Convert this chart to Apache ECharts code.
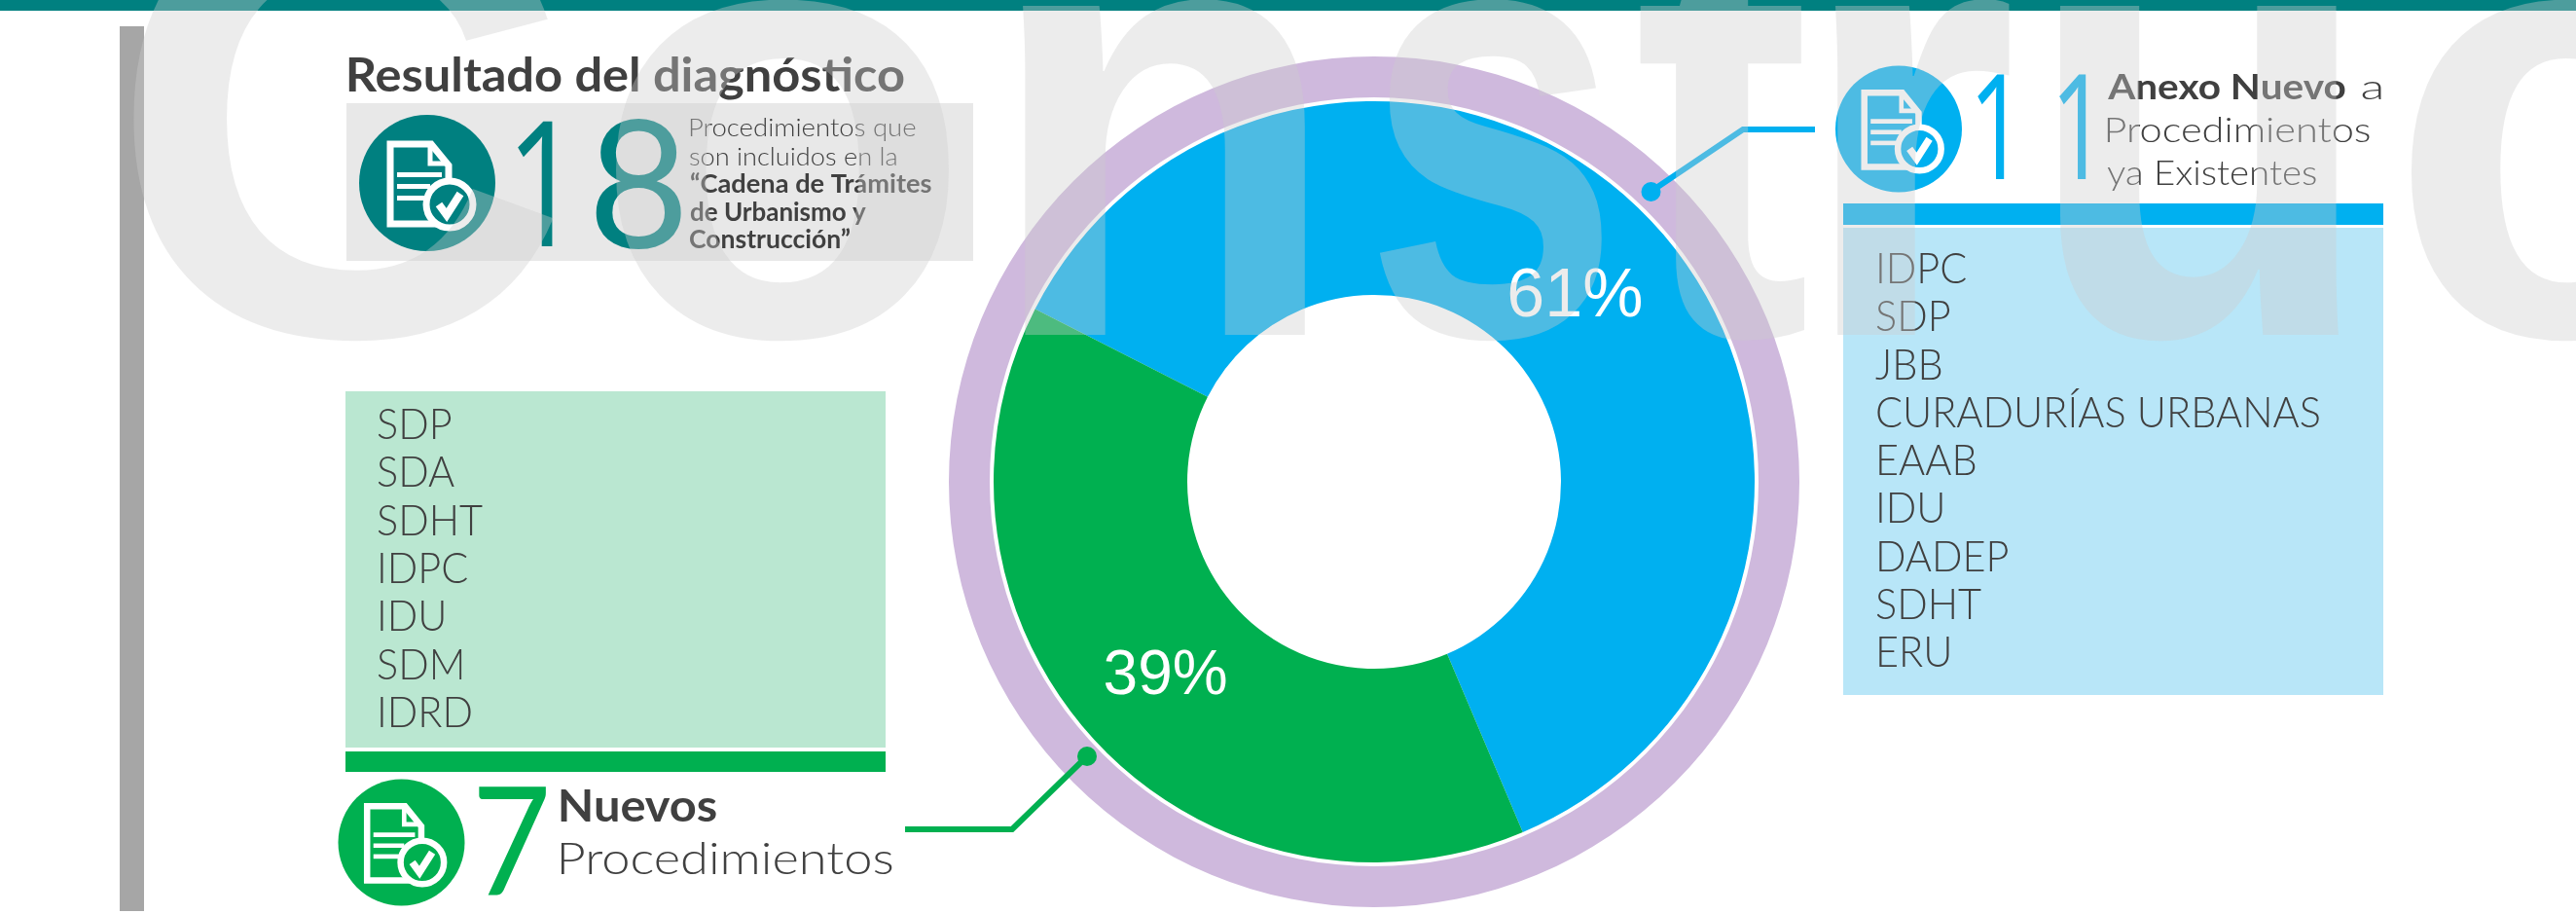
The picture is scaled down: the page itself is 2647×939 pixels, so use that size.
<!DOCTYPE html>
<html><head><meta charset="utf-8">
<style>html,body{margin:0;padding:0;background:#fff}#c{width:2647px;height:939px}</style>
<script src="https://cdn.jsdelivr.net/npm/echarts@6/dist/echarts.min.js"></script>
</head><body><div id="c"></div>
<script>
// ---- data ----
const sliceNames = ['Anexo Nuevo a Procedimientos ya Existentes', 'Nuevos Procedimientos'];
const sliceValues = [11, 7];
const sliceColors = ['#00b0f0', '#00b050'];
const nuevosList = ['SDP', 'SDA', 'SDHT', 'IDPC', 'IDU', 'SDM', 'IDRD'];
const anexoList = ['IDPC', 'SDP', 'JBB', 'CURADURÍAS URBANAS', 'EAAB', 'IDU', 'DADEP', 'SDHT', 'ERU'];
const titleText = 'Resultado del diagnóstico';
const totalValue = '18', anexoValue = '11', nuevosValue = '7';

const ctx = document.createElement('canvas').getContext('2d');
const LT = 'Lato, "Open Sans", sans-serif';
const OS = '"Open Sans", sans-serif';
const DARK = '#404040';
// text placed by ink-left / baseline, optionally stretched to an ink-right; with scale given, left is the origin
function T(text, left, right, base, font, fill, z, scale) {
  ctx.font = font; ctx.textBaseline = 'middle'; ctx.textAlign = 'left';
  const m = ctx.measureText(text);
  const d = ctx.measureText('H').actualBoundingBoxDescent;
  const inkL = m.actualBoundingBoxLeft, inkR = m.actualBoundingBoxRight;
  const s = scale || (right != null ? (right - left) / (inkR + inkL) : 1);
  return { type: 'text', x: scale ? left : left + inkL * s, y: base - d, scaleX: s, z: z || 5, silent: true,
    style: { text, x: 0, y: 0, font, fill, align: 'left', verticalAlign: 'middle' } };
}
function rect(x, y, w, h, fill, z) {
  return { type: 'rect', z: z || 1, silent: true, shape: { x, y, width: w, height: h }, style: { fill } };
}
function icon(cx, cy, r, color) {
  const k = r / 70;
  return { type: 'group', x: cx, y: cy, scaleX: k, scaleY: k, z: 3, silent: true, children: [
    { type: 'circle', z: 3, shape: { cx: 0, cy: 0, r: 70 }, style: { fill: color } },
    { type: 'polygon', z: 4, shape: { points: [[-38, -40], [4, -40], [22, -18], [22, 42], [-38, 42]] }, style: { fill: color, stroke: '#fff', lineWidth: 7 } },
    { type: 'polyline', z: 4, shape: { points: [[3, -40], [3, -20], [22, -20]] }, style: { fill: null, stroke: '#fff', lineWidth: 5 } },
    { type: 'rect', z: 4, shape: { x: -31, y: -11, width: 46, height: 5 }, style: { fill: '#fff' } },
    { type: 'rect', z: 4, shape: { x: -31, y: 1, width: 34, height: 5 }, style: { fill: '#fff' } },
    { type: 'rect', z: 4, shape: { x: -31, y: 13, width: 30, height: 5 }, style: { fill: '#fff' } },
    { type: 'circle', z: 4, shape: { cx: 23, cy: 22, r: 24 }, style: { fill: color, stroke: '#fff', lineWidth: 7 } },
    { type: 'polyline', z: 4, shape: { points: [[12, 22], [20, 33], [34, 11]] }, style: { fill: null, stroke: '#fff', lineWidth: 8 } }
  ] };
}
function leader(points, dot, color) {
  return [
    { type: 'polyline', z: 4, silent: true, shape: { points }, style: { fill: null, stroke: color, lineWidth: 6, lineJoin: 'miter' } },
    { type: 'circle', z: 4, silent: true, shape: { cx: dot[0], cy: dot[1], r: 10 }, style: { fill: color } }
  ];
}

const listFont = '300 43px ' + LT;
ctx.font = listFont;
const cm = ctx.measureText('CURADURÍAS URBANAS');
const listScale = 454 / (cm.actualBoundingBoxRight + cm.actualBoundingBoxLeft);

const els = [
  rect(0, 0, 2647, 11, '#008080'),
  rect(123, 27, 25, 909, '#a6a6a6'),
  rect(356, 106, 644, 162, '#e8e8e8'),
  rect(355, 402, 555, 366, '#bae7d1'),
  rect(355, 772, 555, 21, '#00b050'),
  rect(1894, 234, 555, 480, '#b8e6f8'),
  rect(1894, 209, 555, 22, '#00b0f0'),
  icon(439, 188, 70, '#008080'),
  icon(1951, 132.5, 65, '#00b0f0'),
  icon(412.5, 865.5, 65, '#00b050'),
  T(titleText, 358, 929, 94, '700 47px ' + LT, DARK),
  T(totalValue[0], 532, 568, 253, '400 180px ' + OS, '#008080'),
  T(totalValue[1], 612, 700, 255, '400 182px ' + LT, '#008080'),
  T('Procedimientos que', 709, 941, 140, '300 26px ' + LT, DARK),
  T('son incluidos en la', 709, 921, 170, '300 26px ' + LT, DARK),
  T('“Cadena de Trámites', 709, 957, 198, '700 26px ' + LT, DARK),
  T('de Urbanismo y', 709, 890, 227, '700 26px ' + LT, DARK),
  T('Construcción”', 709, 874, 255, '700 26px ' + LT, DARK),
  T(anexoValue[0], 2032, 2060, 184, '400 151px ' + OS, '#00b0f0'),
  T(anexoValue[1], 2116, 2144, 184, '400 151px ' + OS, '#00b0f0'),
  T('Anexo Nuevo', 2165, 2410, 102, '700 36px ' + LT, DARK),
  T('a', 2427, 2447, 102, '300 36px ' + LT, DARK),
  T('Procedimientos', 2165, 2435, 146, '300 36px ' + LT, DARK),
  T('ya Existentes', 2165, 2380, 190, '300 36px ' + LT, DARK),
  T(nuevosValue, 492, 561, 920, '400 155px ' + LT, '#00b050'),
  T('Nuevos', 576, 736, 844, '700 46px ' + LT, DARK),
  T('Procedimientos', 576, 917, 898, '300 46px ' + LT, DARK),
  ...leader([[1696, 197], [1791, 133], [1865, 133]], [1696.5, 197], '#00b0f0'),
  ...leader([[930, 852], [1040, 852], [1117, 777]], [1117, 777], '#00b050')
];
nuevosList.forEach((s, i) => els.push(T(s, 387, null, 451 + i * 49.33, listFont, DARK, 5, listScale)));
anexoList.forEach((s, i) => els.push(T(s, 1927, null, 291 + i * 49.25, listFont, DARK, 5, listScale)));

// big translucent watermark above everything
const wmFont = '700 640px "Liberation Sans", sans-serif';
const wmFill = 'rgba(205,205,205,0.376)';
[['C', 131, 574], ['o', 628, 979], ['n', 1049, 1349], ['s', 1416, 1646], ['t', 1679, 1858],
 ['r', 1884, 2065], ['u', 2108, 2404], ['c', 2473, 2790]].forEach(l => els.push(T(l[0], l[1], l[2], 344, wmFont, wmFill, 100)));

const chart = echarts.init(document.getElementById('c'), null, { renderer: 'canvas' });
chart.setOption({
  animation: false,
  backgroundColor: '#fff',
  graphic: { elements: els },
  series: [
    { type: 'pie', silent: true, center: [1412, 495], radius: [395, 437], z: 2,
      label: { show: false }, labelLine: { show: false },
      data: [{ value: 1, name: 'anillo', itemStyle: { color: '#cfb9dd' } }] },
    { type: 'pie', silent: true, center: [1412, 495], radius: [192, 391], startAngle: 153, z: 3,
      percentPrecision: 0, clockwise: true,
      labelLine: { show: false },
      labelLayout: p => p.dataIndex === 0 ? { dx: -9, dy: 12 } : { dx: 1, dy: 0 },
      label: { show: true, position: 'inside', formatter: '{d}%', color: '#fff', fontFamily: '"Liberation Sans", Arial, sans-serif' },
      data: sliceValues.map((v, i) => ({ value: v, name: sliceNames[i], itemStyle: { color: sliceColors[i] },
        label: { fontSize: i === 0 ? 70 : 64 } })) }
  ]
});
</script></body></html>
